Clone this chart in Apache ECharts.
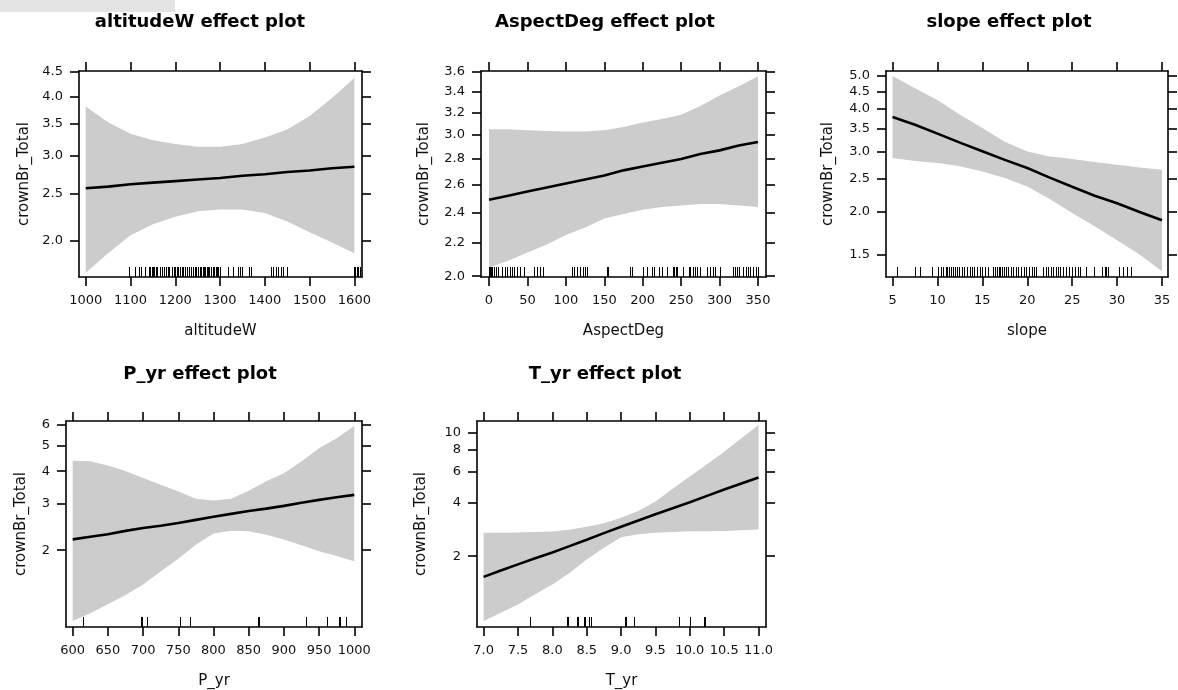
<!DOCTYPE html>
<html>
<head>
<meta charset="utf-8">
<title>crownBr_Total effect plots</title>
<script src="https://cdn.jsdelivr.net/npm/echarts@6/dist/echarts.min.js"></script>
<style>
  html, body { margin: 0; padding: 0; background: #ffffff; }
  #chart { width: 1178px; height: 690px; }
</style>
</head>
<body>
<div id="chart"></div>
<script>
// ---- altitudeW ----
const altitudeX     = [1000, 1050, 1100, 1150, 1200, 1250, 1300, 1350, 1400, 1450, 1500, 1550, 1600];
const altitudeFit   = [2.57, 2.59, 2.62, 2.64, 2.66, 2.68, 2.70, 2.73, 2.75, 2.78, 2.80, 2.83, 2.85];
const altitudeLower = [1.71, 1.88, 2.05, 2.16, 2.24, 2.30, 2.32, 2.32, 2.28, 2.19, 2.08, 1.98, 1.88];
const altitudeUpper = [3.81, 3.53, 3.34, 3.24, 3.18, 3.14, 3.14, 3.18, 3.28, 3.41, 3.64, 3.97, 4.37];
const altitudeRug   = [1097, 1111, 1119, 1124, 1133, 1141, 1144, 1147, 1150, 1153, 1156, 1159, 1167, 1171,
  1175, 1180, 1184, 1187, 1193, 1197, 1200, 1203, 1206, 1210, 1215, 1218, 1222, 1227, 1231, 1236, 1240,
  1243, 1246, 1250, 1255, 1258, 1261, 1264, 1267, 1270, 1273, 1276, 1280, 1284, 1287, 1290, 1293, 1296,
  1299, 1318, 1329, 1339, 1344, 1350, 1365, 1369, 1413, 1418, 1424, 1430, 1436, 1441, 1450, 1599, 1602,
  1606, 1609, 1613];
const altitudeXTicks = [1000, 1100, 1200, 1300, 1400, 1500, 1600];
const altitudeYTicks = [2.0, 2.5, 3.0, 3.5, 4.0, 4.5];

// ---- AspectDeg ----
const aspectX     = [0, 25, 50, 75, 100, 125, 150, 175, 200, 225, 250, 275, 300, 325, 350];
const aspectFit   = [2.49, 2.52, 2.55, 2.58, 2.61, 2.64, 2.67, 2.71, 2.74, 2.77, 2.80, 2.84, 2.87, 2.91, 2.94];
const aspectLower = [2.05, 2.09, 2.14, 2.19, 2.25, 2.30, 2.36, 2.39, 2.42, 2.44, 2.45, 2.46, 2.46, 2.45, 2.44];
const aspectUpper = [3.05, 3.05, 3.04, 3.035, 3.03, 3.03, 3.04, 3.07, 3.11, 3.14, 3.18, 3.26, 3.36, 3.45, 3.55];
const aspectRug   = [0, 1, 3, 4, 7, 9, 12, 17, 21, 24, 27, 30, 33, 36, 40, 45, 59, 62, 66, 70, 108, 111, 114,
  118, 122, 125, 128, 153, 155, 183, 186, 200, 205, 212, 215, 221, 225, 231, 240, 241, 243, 245, 253, 260,
  262, 265, 268, 271, 275, 284, 288, 291, 294, 301, 318, 320, 323, 325, 330, 334, 337, 340, 343, 347, 350];
const aspectXTicks = [0, 50, 100, 150, 200, 250, 300, 350];
const aspectYTicks = [2.0, 2.2, 2.4, 2.6, 2.8, 3.0, 3.2, 3.4, 3.6];

// ---- slope ----
const slopeX     = [5, 7.5, 10, 12.5, 15, 17.5, 20, 22.5, 25, 27.5, 30, 32.5, 35];
const slopeFit   = [3.79, 3.60, 3.39, 3.19, 3.01, 2.84, 2.69, 2.52, 2.37, 2.23, 2.12, 2.00, 1.89];
const slopeLower = [2.875, 2.82, 2.78, 2.72, 2.627, 2.513, 2.375, 2.182, 1.986, 1.815, 1.652, 1.50, 1.341];
const slopeUpper = [5.0, 4.60, 4.25, 3.85, 3.52, 3.21, 3.005, 2.906, 2.855, 2.80, 2.748, 2.70, 2.657];
const slopeRug   = [5.5, 7.5, 8.1, 9.4, 10.1, 10.4, 10.6, 10.9, 11.1, 11.3, 11.5, 11.7, 11.9, 12.2, 12.4,
  12.7, 13.0, 13.3, 13.6, 13.8, 14.1, 14.4, 14.7, 15.0, 15.3, 15.6, 16.2, 16.4, 16.6, 16.8, 17.0, 17.2,
  17.4, 17.6, 17.9, 18.2, 18.4, 18.7, 19.0, 19.3, 19.6, 19.9, 20.2, 20.5, 20.7, 21.0, 21.8, 22.1, 22.3,
  22.6, 22.9, 23.2, 23.4, 23.7, 24.0, 24.3, 24.6, 24.7, 25.0, 25.3, 25.6, 25.9, 26.5, 27.4, 28.3, 28.6,
  28.8, 29.0, 30.2, 30.7, 31.1, 31.6];
const slopeXTicks = [5, 10, 15, 20, 25, 30, 35];
const slopeYTicks = [1.5, 2.0, 2.5, 3.0, 3.5, 4.0, 4.5, 5.0];

// ---- P_yr ----
const pyrX     = [600, 625, 650, 675, 700, 725, 750, 775, 800, 825, 850, 875, 900, 925, 950, 975, 1000];
const pyrFit   = [2.20, 2.25, 2.30, 2.37, 2.43, 2.48, 2.54, 2.61, 2.68, 2.75, 2.82, 2.88, 2.95, 3.03, 3.11, 3.18, 3.25];
const pyrLower = [1.075, 1.15, 1.244, 1.35, 1.48, 1.66, 1.855, 2.10, 2.314, 2.37, 2.36, 2.29, 2.196, 2.09, 1.98, 1.90, 1.816];
const pyrUpper = [4.38, 4.36, 4.20, 4.01, 3.77, 3.55, 3.35, 3.14, 3.09, 3.14, 3.37, 3.66, 3.93, 4.35, 4.89, 5.34, 5.95];
const pyrRug   = [614, 697, 699, 705, 752, 767, 863, 865, 931, 961, 978, 980, 988];
const pyrXTicks = [600, 650, 700, 750, 800, 850, 900, 950, 1000];
const pyrYTicks = [2, 3, 4, 5, 6];

// ---- T_yr ----
const tyrX     = [7.0, 7.25, 7.5, 7.75, 8.0, 8.25, 8.5, 8.75, 9.0, 9.25, 9.5, 9.75, 10.0, 10.25, 10.5, 10.75, 11.0];
const tyrFit   = [1.53, 1.66, 1.80, 1.95, 2.10, 2.28, 2.48, 2.70, 2.93, 3.18, 3.45, 3.73, 4.03, 4.38, 4.76, 5.15, 5.56];
const tyrLower = [0.863, 0.96, 1.07, 1.22, 1.387, 1.61, 1.917, 2.23, 2.56, 2.66, 2.71, 2.74, 2.764, 2.77, 2.78, 2.80, 2.826];
const tyrUpper = [2.71, 2.715, 2.72, 2.74, 2.76, 2.82, 2.93, 3.07, 3.30, 3.60, 4.07, 4.80, 5.63, 6.61, 7.78, 9.25, 10.99];
const tyrRug   = [7.68, 8.21, 8.23, 8.36, 8.37, 8.46, 8.48, 8.54, 8.56, 9.05, 9.07, 9.19, 9.84, 10.0, 10.21, 10.22];
const tyrXTicks = [7.0, 7.5, 8.0, 8.5, 9.0, 9.5, 10.0, 10.5, 11.0];
const tyrYTicks = [2, 4, 6, 8, 10];

const yTitle = 'crownBr_Total';
const FONT = '"DejaVu Sans", "Liberation Sans", Arial, sans-serif';

// Panel layout: plot boxes, axis limits and label formats
const panels = [
  { title: 'altitudeW effect plot', xName: 'altitudeW', x: altitudeX, fit: altitudeFit, lower: altitudeLower,
    upper: altitudeUpper, rug: altitudeRug, xTicks: altitudeXTicks, yTicks: altitudeYTicks, xDigits: 0, yDigits: 1,
    xRange: [985, 1617], yRange: [1.676, 4.52], box: { left: 79, top: 71, width: 283, height: 206 },
    titleX: 200, titleY: 22, yGap: 47 },
  { title: 'AspectDeg effect plot', xName: 'AspectDeg', x: aspectX, fit: aspectFit, lower: aspectLower,
    upper: aspectUpper, rug: aspectRug, xTicks: aspectXTicks, yTicks: aspectYTicks, xDigits: 0, yDigits: 1,
    xRange: [-10.4, 360.4], yRange: [1.995, 3.605], box: { left: 481, top: 71, width: 285, height: 206 },
    titleX: 605, titleY: 22, yGap: 49 },
  { title: 'slope effect plot', xName: 'slope', x: slopeX, fit: slopeFit, lower: slopeLower,
    upper: slopeUpper, rug: slopeRug, xTicks: slopeXTicks, yTicks: slopeYTicks, xDigits: 0, yDigits: 1,
    xRange: [4.27, 35.67], yRange: [1.29, 5.17], box: { left: 886, top: 71, width: 282, height: 206 },
    titleX: 1009, titleY: 22, yGap: 50 },
  { title: 'P_yr effect plot', xName: 'P_yr', x: pyrX, fit: pyrFit, lower: pyrLower,
    upper: pyrUpper, rug: pyrRug, xTicks: pyrXTicks, yTicks: pyrYTicks, xDigits: 0, yDigits: 0,
    xRange: [590.5, 1011], yRange: [1.02, 6.21], box: { left: 66, top: 421, width: 296, height: 207 },
    titleX: 200, titleY: 374, yGap: 37 },
  { title: 'T_yr effect plot', xName: 'T_yr', x: tyrX, fit: tyrFit, lower: tyrLower,
    upper: tyrUpper, rug: tyrRug, xTicks: tyrXTicks, yTicks: tyrYTicks, xDigits: 1, yDigits: 0,
    xRange: [6.904, 11.108], yRange: [0.798, 11.58], box: { left: 477, top: 421, width: 289, height: 207 },
    titleX: 605, titleY: 374, yGap: 48 }
];

const lg = Math.log10;
const axisLineStyle = { color: '#000', width: 1.6 };
const labelStyle = { color: '#111', fontFamily: FONT, fontSize: 13 };
const nameStyle = { color: '#111', fontFamily: FONT, fontSize: 15 };

const grid = [], xAxis = [], yAxis = [], series = [], graphic = [];

// strip of the surrounding page at the top-left corner
graphic.push({ type: 'rect', shape: { x: 0, y: 0, width: 175, height: 12 }, style: { fill: '#e4e4e4' }, silent: true });

panels.forEach((p, i) => {
  grid.push(Object.assign({ containLabel: false }, p.box));
  const yTicksLog = p.yTicks.map(lg);
  const yMin = lg(p.yRange[0]), yMax = lg(p.yRange[1]);
  const xFmt = v => v.toFixed(p.xDigits);
  const yFmt = v => Math.pow(10, v).toFixed(p.yDigits);

  // bottom (labelled) and top x axes
  xAxis.push({
    type: 'value', gridIndex: i, position: 'bottom', min: p.xRange[0], max: p.xRange[1],
    axisLine: { show: true, onZero: false, lineStyle: axisLineStyle },
    axisTick: { show: true, inside: false, length: 9, customValues: p.xTicks, lineStyle: axisLineStyle },
    axisLabel: { show: true, customValues: p.xTicks, margin: 17, formatter: xFmt, ...labelStyle },
    splitLine: { show: false },
    name: p.xName, nameLocation: 'middle', nameGap: 47, nameTextStyle: nameStyle
  });
  xAxis.push({
    type: 'value', gridIndex: i, position: 'top', min: p.xRange[0], max: p.xRange[1],
    axisLine: { show: true, onZero: false, lineStyle: axisLineStyle },
    axisTick: { show: true, inside: false, length: 9, customValues: p.xTicks, lineStyle: axisLineStyle },
    axisLabel: { show: false }, splitLine: { show: false }
  });
  // left (labelled) and right y axes, log-scaled values
  yAxis.push({
    type: 'value', gridIndex: i, position: 'left', min: yMin, max: yMax,
    axisLine: { show: true, onZero: false, lineStyle: axisLineStyle },
    axisTick: { show: true, inside: false, length: 9, customValues: yTicksLog, lineStyle: axisLineStyle },
    axisLabel: { show: true, customValues: yTicksLog, margin: 16, formatter: yFmt, ...labelStyle },
    splitLine: { show: false },
    name: yTitle, nameLocation: 'middle', nameGap: p.yGap, nameRotate: 90, nameTextStyle: nameStyle
  });
  yAxis.push({
    type: 'value', gridIndex: i, position: 'right', min: yMin, max: yMax,
    axisLine: { show: true, onZero: false, lineStyle: axisLineStyle },
    axisTick: { show: true, inside: false, length: 9, customValues: yTicksLog, lineStyle: axisLineStyle },
    axisLabel: { show: false }, splitLine: { show: false }
  });

  const xi = 2 * i, yi = 2 * i;
  const bandData = p.x.map((v, k) => [v, lg(p.lower[k]), lg(p.upper[k])]);

  // confidence band: one polygon through the upper bound and back along the lower bound
  series.push({
    type: 'custom', xAxisIndex: xi, yAxisIndex: yi, silent: true, z: 1,
    data: bandData,
    encode: { x: 0, y: [1, 2] },
    renderItem: (params, api) => {
      if (params.dataIndex !== 0) return null;
      const top = bandData.map(d => api.coord([d[0], d[2]]));
      const bottom = bandData.map(d => api.coord([d[0], d[1]])).reverse();
      const cs = params.coordSys;
      return {
        type: 'polygon',
        shape: { points: top.concat(bottom) },
        style: { fill: '#cccccc', stroke: null },
        clipPath: { type: 'rect', shape: { x: cs.x, y: cs.y, width: cs.width, height: cs.height } }
      };
    }
  });
  // fitted effect
  series.push({
    type: 'line', xAxisIndex: xi, yAxisIndex: yi,
    data: p.x.map((v, k) => [v, lg(p.fit[k])]),
    symbol: 'none', lineStyle: { color: '#000', width: 2.6 }, silent: true, z: 3
  });
  // rug of observed values along the bottom edge
  series.push({
    type: 'custom', xAxisIndex: xi, yAxisIndex: yi, silent: true, z: 4,
    data: p.rug.map(v => [v, yMin]),
    renderItem: (params, api) => {
      const pt = api.coord([api.value(0), api.value(1)]);
      const x = Math.round(pt[0]) + 0.5;
      return {
        type: 'line',
        shape: { x1: x, y1: pt[1], x2: x, y2: pt[1] - 10 },
        style: { stroke: '#000', lineWidth: 1 }
      };
    }
  });

  graphic.push({
    type: 'text', x: p.titleX, y: p.titleY, silent: true,
    style: { text: p.title, font: 'bold 18px ' + FONT, fill: '#000', align: 'center', verticalAlign: 'middle' }
  });
});

const chart = echarts.init(document.getElementById('chart'), null, { renderer: 'canvas' });
chart.setOption({
  backgroundColor: '#ffffff',
  animation: false,
  grid, xAxis, yAxis, series, graphic
});
</script>
</body>
</html>
